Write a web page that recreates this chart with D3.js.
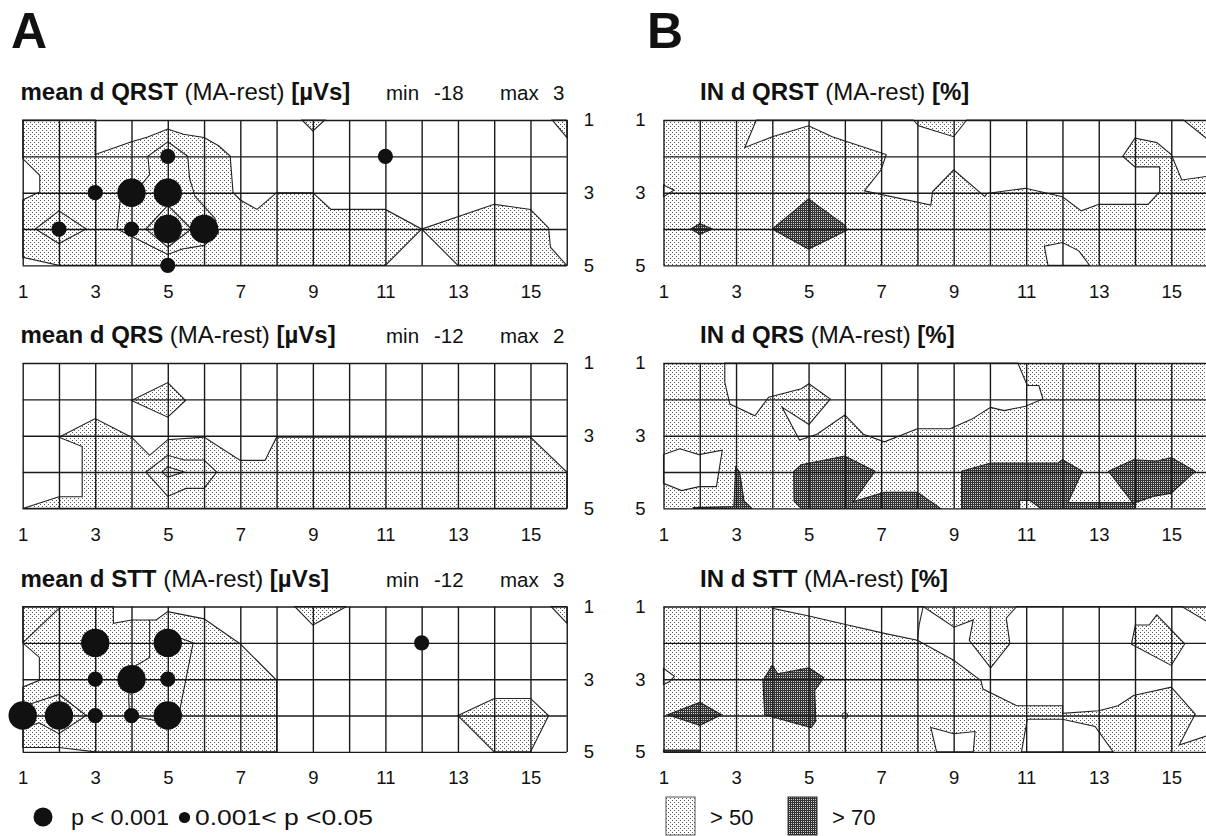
<!DOCTYPE html>
<html><head><meta charset="utf-8">
<script src="https://cdn.jsdelivr.net/npm/d3@7"></script>
<style>body{margin:0;background:#fff}svg{display:block}</style>
</head><body>
<svg id="c" width="1206" height="836"></svg>
<script>
// ---------- data ----------
const xTicks = [1,3,5,7,9,11,13,15];
const yTicks = [1,3,5];
const gridCols = d3.range(1,17);
const gridRows = [1,2,3,4,5];

const titlesA = ["QRST","QRS","STT"];
const minsA = ["-18","-12","-12"];
const maxsA = ["3","2","3"];

// Panel A: mean differences, shaded contour regions (grid coords [col,row])
const aTopShade = [
 [[1,1],[3,1],[3,1.95],[4,1.6],[4.45,1.47],[5,1.25],[5.43,1.39],[6,1.48],[6.4,1.71],[6.72,1.99],[6.8,3.0],[7,3.2],[7.46,3.46],[8,3.0],[9,3.0],[9.5,3.46],[11,3.46],[12,4],[14,3.32],[15,3.46],[15.5,3.97],[15.55,4.5],[16,5],[13,5],[12,4],[11,5],[2,5],[1,4.78],[1,3.2],[1.47,2.98],[1.47,2.52],[1,2.06]],
 [[8.7,1],[9,1.3],[9.33,1]],
 [[15.6,1],[16,1],[16,1.48]]
];
const aTopLines = [
 [[5,1.6],[5.55,2.0],[5.6,2.6],[5.75,3.1],[6.3,3.7],[6.4,4.1],[6.0,4.45],[5.4,4.55],[5,4.7],[4.6,4.5],[4.0,4.2],[3.6,4.0],[3.7,3.1],[4.3,2.75],[4.5,2.5],[4.45,2.0]],
 [[5,3.35],[5.65,4],[5,4.5],[4.4,4]],
 [[2,3.5],[2.75,4],[2,4.4],[1.35,4]]
];
const aTopBig = [[4,3],[5,3],[5,4],[6,4]];
const aTopSmall = [[5,2],[11,2],[3,3],[2,4],[4,4],[5,5]];

const aMidShade = [
 [[1,5],[2,4.68],[2.64,4.68],[2.64,3.3],[2,3.04],[3,2.53],[4,3.04],[4.5,3.54],[5,3.11],[6,3.04],[7,3.68],[7.68,3.68],[8,3.04],[15,3.04],[16,4],[16,5]],
 [[4,2.03],[5,1.54],[5.49,2.03],[5,2.49]]
];
const aMidLines = [
 [[4.4,4],[5,3.54],[5.45,3.67],[6,3.67],[6.35,4],[6,4.45],[5.5,4.45],[5,4.67]],
 [[4.84,4],[5,3.86],[5.45,4],[5,4.14]]
];
const aMidBig = [];
const aMidSmall = [];

const aBotShade = [
 [[1,1],[3.5,1],[3.5,1.46],[4,1.37],[4.68,1.37],[5,1.14],[6,1.34],[7,2.03],[8,3.03],[8,5],[3,5],[2,4.88],[1,4.88],[1,3.22],[1.46,3.03],[1.46,2.4],[1,2]],
 [[8.5,1],[9,1.51],[9.93,1]],
 [[15.57,1],[16,1],[16,1.46]],
 [[13,4],[14,3.53],[15,3.53],[15.5,4],[15,5],[14,5]]
];
const aBotLines = [
 [[4.5,1.37],[4.5,2.4],[4.0,2.7],[3.92,3.5],[3.95,4.0],[5.0,4.2],[5.3,4.0],[5.5,3.0],[5.7,2.0],[5.3,1.85],[5,1.6]],
 [[1,3.75],[2,3.42],[2.75,4.0],[2,4.5],[1.45,4.2],[1,4.35]],
 [[1,2],[2,1.05]]
];
const aBotBig = [[3,2],[5,2],[4,3],[1,4],[2,4],[5,4]];
const aBotSmall = [[3,3],[5,3],[3,4],[4,4],[12,2]];

// Panel B: IN (% of subjects); white = below 50, dark = above 70
const bTopWhite = [
 [[3.56,1],[3.24,1.76],[4,1.46],[5,1.16],[5.65,1.46],[7.14,1.95],[7,2.37],[6.54,2.95],[8.37,3.34],[8.42,2.97],[9,2.37],[9.86,3.11],[9.91,3.02],[10.98,2.88],[12,3.11],[12.52,3.5],[13,3.32],[14.36,3.32],[14.68,2.97],[14.68,2.29],[14,2.29],[13.66,2.0],[14,1.5],[14.6,1.62],[15,1.95],[15.29,2.65],[16,2.55],[16,1.53],[15.34,1],[9.36,1],[9,1.46],[8.03,1.16],[7.89,1]],
 [[1,2.79],[1.29,2.93],[1,3.11]],
 [[11.6,5],[11.5,4.47],[12,4.37],[12.45,4.6],[12.75,5]]
];
const bTopDark = [
 [[4,4],[5,3.17],[6,3.9],[6.06,4.03],[5,4.55]],
 [[1.75,4],[2,3.85],[2.35,4],[2,4.15]]
];
const bMidWhite = [
 [[2.69,1],[2.69,1.53],[2.83,2.13],[3.52,2.45],[3.9,1.94],[4.8,1.71],[5.01,1.57],[5.6,1.99],[5.01,2.69],[4.27,2.22],[4.75,3.12],[5.23,2.96],[6,2.43],[6.51,2.96],[7.09,3.17],[8,2.81],[8.9,2.81],[9.49,2.55],[10.02,2.22],[10.39,2.31],[10.98,2.19],[11.46,1.99],[11.35,1.62],[11.03,1.62],[10.77,1]],
 [[1,3.52],[1.45,3.36],[1.98,3.52],[2.62,3.4],[2.46,4.4],[1.98,4.4],[1.5,4.51],[1,4.31]]
];
const bMidDark = [
 [[1.82,4.98],[2.94,4.95],[2.99,3.86],[3.1,4.0],[3.22,4.8],[3.44,5],[1.82,5]],
 [[4.59,3.98],[4.8,3.8],[6,3.56],[6.83,3.98],[6.24,4.81],[7.09,4.56],[8,4.56],[8.64,5],[4.8,5],[4.6,4.8]],
 [[9.22,3.98],[10.02,3.75],[11.88,3.75],[12,3.66],[12.55,3.98],[12.15,4.84],[14,4.84],[14,5],[11.4,5],[11.1,4.78],[10.82,4.78],[10.82,5],[9.22,5]],
 [[13.27,3.98],[13.96,3.66],[14.6,3.7],[15,3.6],[15.66,3.98],[15,4.58],[14.5,4.67],[13.95,4.86]]
];
const bBotWhite = [
 [[4,1],[8.16,1],[9.01,1.57],[9.54,1.37],[9.43,1.93],[10.02,2.69],[10.55,2.02],[10.45,1.32],[10.74,1],[15.29,1],[16,1.42],[16,4.55],[15.22,4.81],[15.66,3.96],[15,3.22],[13.96,3.45],[13.53,3.73],[13,3.87],[12,3.94],[12,3.73],[10.74,3.73],[9.81,3.27],[9.75,3.04],[9,2.48],[8,1.93],[7.09,1.74],[6.08,1.51],[5.01,1.26],[4,1.05]],
 [[1,2.7],[1.3,2.92],[1.16,3.07],[1,3.14]],
 [[10.87,5],[11.03,4.1],[12,4.1],[12.9,4.3],[13.4,5]],
 [[8.53,5],[8.37,4.33],[9,4.5],[9.59,4.44],[9.54,5]]
];
const bBotIslands = [
 [[14.01,1.51],[14.39,1.51],[14.6,1.23],[15.37,2.03],[15,2.62],[13.9,2.04]]
];
const bBotLines = [[[8,1.93],[8.05,1.5],[8.16,1]]];
const bBotDark = [
 [[1.11,3.98],[2,3.64],[2.6,3.98],[2,4.27]],
 [[3.74,3.04],[4,2.62],[4.15,2.85],[5.01,2.69],[5.42,2.96],[5.17,3.31],[5.2,4.15],[5.07,4.33],[3.79,3.98]],
 [[1,4.95],[2,4.95],[2,5],[1,5]]
];
const bBotRing = [[6,4]];
const titlesB = ["QRST","QRS","STT"];
const legendA = ["p < 0.001","0.001< p <0.05"];
const legendB = ["> 50","> 70"];

// ---------- drawing ----------
const FONT = "'Liberation Sans', Arial, Helvetica, sans-serif";
const svg = d3.select("#c");
const defs = svg.append("defs");
const pl = defs.append("pattern").attr("id","light").attr("width",4).attr("height",4).attr("patternUnits","userSpaceOnUse");
pl.append("rect").attr("width",4).attr("height",4).attr("fill","#fff");
pl.append("rect").attr("x",0).attr("y",0).attr("width",1).attr("height",1).attr("fill","#555");
pl.append("rect").attr("x",2).attr("y",2).attr("width",1).attr("height",1).attr("fill","#555");
const pd = defs.append("pattern").attr("id","dark").attr("width",2).attr("height",2).attr("patternUnits","userSpaceOnUse");
pd.append("rect").attr("width",2).attr("height",2).attr("fill","#333");
pd.append("rect").attr("x",1).attr("y",1).attr("width",1).attr("height",1).attr("fill","#d0d0d0");

const dx = 36.27, dy = 36.35;
const tops = [120, 363, 606.5];
const AX0 = 22.7, BX0 = 663.5;
const fmt = d3.format("d");

function scales(x0, top){
  return {x: d3.scaleLinear().domain([1,16]).range([x0, x0+15*dx]),
          y: d3.scaleLinear().domain([1,5]).range([top, top+4*dy])};
}
function pathFn(s, closed){
  const l = d3.line().x(d=>s.x(d[0])).y(d=>s.y(d[1]));
  return d => l(d) + (closed ? "Z" : "");
}
function drawGrid(g, s){
  const h = s.y(5)-s.y(1), w = s.x(16)-s.x(1);
  const gx = g.append("g").attr("transform",`translate(0,${s.y(5)})`)
    .call(d3.axisBottom(s.x).tickValues(gridCols).tickSize(-h).tickSizeOuter(0).tickFormat(""));
  const gy = g.append("g").attr("transform",`translate(${s.x(1)},0)`)
    .call(d3.axisLeft(s.y).tickValues(gridRows).tickSize(-w).tickSizeOuter(0).tickFormat(""));
  [gx,gy].forEach(a=>{a.select(".domain").remove(); a.selectAll("line").attr("stroke","#1a1a1a").attr("stroke-width",1.4);});
}
function xLabels(g, s){
  const a = g.append("g").attr("transform",`translate(0,${s.y(5)})`)
    .call(d3.axisBottom(s.x).tickValues(xTicks).tickSize(0).tickPadding(19).tickFormat(fmt));
  a.select(".domain").remove();
  a.attr("font-family",FONT).attr("font-size",18.5);
  a.selectAll("text").attr("fill","#111");
}
function title(g, x, y, name, unit){
  const t = g.append("text").attr("x",x).attr("y",y).attr("font-family",FONT).attr("font-size",24).attr("fill","#111");
  t.append("tspan").attr("font-weight","bold").text(name);
  t.append("tspan").text(" (MA-rest) ");
  t.append("tspan").attr("font-weight","bold").text(unit);
}

// Panel letters
svg.append("text").attr("x",11).attr("y",48).attr("font-family",FONT).attr("font-weight","bold").attr("font-size",50).attr("fill","#111").text("A");
svg.append("text").attr("x",647).attr("y",48).attr("font-family",FONT).attr("font-weight","bold").attr("font-size",50).attr("fill","#111").text("B");

// Panel A
const aShade = [aTopShade, aMidShade, aBotShade];
const aLines = [aTopLines, aMidLines, aBotLines];
const aBig = [aTopBig, aMidBig, aBotBig];
const aSmall = [aTopSmall, aMidSmall, aBotSmall];
titlesA.forEach((nm,i)=>{
  const s = scales(AX0, tops[i]);
  const g = svg.append("g");
  title(g, 20.5, tops[i]-20, "mean d "+nm, "[µVs]");
  const ty = tops[i]-20;
  [["min",386],[minsA[i],434],["max",500],[maxsA[i],553]].forEach(([t,x])=>
    g.append("text").attr("x",x).attr("y",ty).attr("font-family",FONT).attr("font-size",20.5).attr("fill","#111").text(t));
  g.selectAll("path.sh").data(aShade[i]).join("path").attr("class","sh")
    .attr("d",pathFn(s,true)).attr("fill","url(#light)").attr("stroke","#222").attr("stroke-width",1.1);
  g.selectAll("path.ln").data(aLines[i]).join("path").attr("class","ln")
    .attr("d",pathFn(s,i!==2)).attr("fill","none").attr("stroke","#222").attr("stroke-width",1.1);
  drawGrid(g, s);
  g.selectAll("circle.big").data(aBig[i]).join("circle").attr("class","big")
    .attr("cx",d=>s.x(d[0])).attr("cy",d=>s.y(d[1])).attr("r",14.2).attr("fill","#111");
  g.selectAll("circle.sm").data(aSmall[i]).join("circle").attr("class","sm")
    .attr("cx",d=>s.x(d[0])).attr("cy",d=>s.y(d[1])).attr("r",7.6).attr("fill","#111");
  xLabels(g, s);
  const r = g.append("g").attr("transform",`translate(${s.x(16)},0)`)
    .call(d3.axisRight(s.y).tickValues(yTicks).tickSize(0).tickPadding(17).tickFormat(fmt));
  r.select(".domain").remove();
  r.attr("font-family",FONT).attr("font-size",18.5);
  r.selectAll("text").attr("fill","#111");
});

// Panel B
const bWhite = [bTopWhite, bMidWhite, bBotWhite];
const bDark = [bTopDark, bMidDark, bBotDark];
const bIslands = [[], [], bBotIslands];
const bLines = [[], [], bBotLines];
titlesB.forEach((nm,i)=>{
  const s = scales(BX0, tops[i]);
  const g = svg.append("g");
  title(g, 700, tops[i]-20, "IN d "+nm, "[%]");
  g.append("rect").attr("x",s.x(1)).attr("y",s.y(1)).attr("width",s.x(16)-s.x(1)).attr("height",s.y(5)-s.y(1)).attr("fill","url(#light)");
  g.selectAll("path.wh").data(bWhite[i]).join("path").attr("class","wh")
    .attr("d",pathFn(s,true)).attr("fill","#fff").attr("stroke","#222").attr("stroke-width",1.1);
  g.selectAll("path.is").data(bIslands[i]).join("path").attr("class","is")
    .attr("d",pathFn(s,true)).attr("fill","url(#light)").attr("stroke","#222").attr("stroke-width",1.1);
  g.selectAll("path.ln").data(bLines[i]).join("path").attr("class","ln")
    .attr("d",pathFn(s,false)).attr("fill","none").attr("stroke","#222").attr("stroke-width",1.1);
  g.selectAll("path.dk").data(bDark[i]).join("path").attr("class","dk")
    .attr("d",pathFn(s,true)).attr("fill","url(#dark)").attr("stroke","#222").attr("stroke-width",1.1);
  if (i===2) g.selectAll("circle.ring").data(bBotRing).join("circle").attr("class","ring")
    .attr("cx",d=>s.x(d[0])).attr("cy",d=>s.y(d[1])).attr("r",3).attr("fill","none").attr("stroke","#333");
  drawGrid(g, s);
  xLabels(g, s);
  const l = g.append("g").attr("transform",`translate(${s.x(1)},0)`)
    .call(d3.axisLeft(s.y).tickValues(yTicks).tickSize(0).tickPadding(18).tickFormat(fmt));
  l.select(".domain").remove();
  l.attr("font-family",FONT).attr("font-size",18.5);
  l.selectAll("text").attr("fill","#111");
});

// Legends
const lg = svg.append("g").attr("font-family",FONT).attr("font-size",22).attr("fill","#111");
lg.append("circle").attr("cx",43).attr("cy",817).attr("r",9.5).attr("fill","#111");
lg.append("text").attr("x",71).attr("y",824.5).attr("textLength",98).attr("lengthAdjust","spacingAndGlyphs").text(legendA[0]);
lg.append("circle").attr("cx",184.5).attr("cy",817.5).attr("r",5.6).attr("fill","#111");
lg.append("text").attr("x",195).attr("y",824.5).attr("textLength",178).attr("lengthAdjust","spacingAndGlyphs").text(legendA[1]);
lg.append("rect").attr("x",666).attr("y",797).attr("width",29).attr("height",38).attr("fill","url(#light)").attr("stroke","#555").attr("stroke-width",1);
lg.append("text").attr("x",710).attr("y",824.5).text(legendB[0]);
lg.append("rect").attr("x",788).attr("y",797).attr("width",29).attr("height",38).attr("fill","url(#dark)").attr("stroke","#333").attr("stroke-width",1);
lg.append("text").attr("x",832).attr("y",824.5).text(legendB[1]);
</script>
</body></html>
